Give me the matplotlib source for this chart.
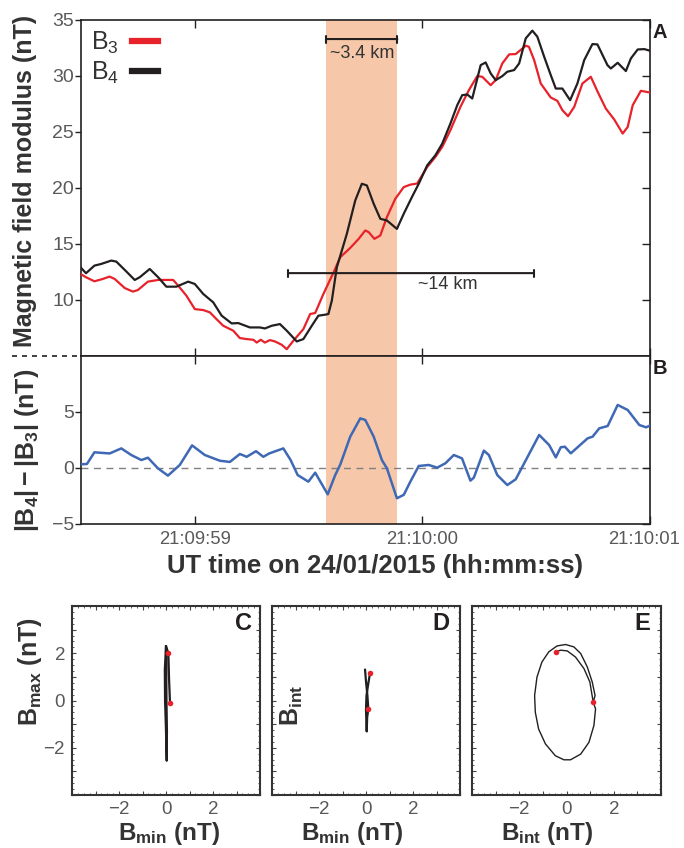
import numpy as np
import matplotlib
matplotlib.use("Agg")
import matplotlib.pyplot as plt
from matplotlib.lines import Line2D
from matplotlib.ticker import MultipleLocator, FuncFormatter
from matplotlib.transforms import ScaledTranslation

plt.rcParams['font.family'] = ['Liberation Sans', 'DejaVu Sans']
plt.rcParams['mathtext.fontset'] = 'custom'
plt.rcParams['mathtext.rm'] = 'Liberation Sans'
plt.rcParams['mathtext.it'] = 'Liberation Sans:italic'
plt.rcParams['mathtext.bf'] = 'Liberation Sans:bold'

# time in seconds relative to 21:09:59
t_b3 = [-0.502, -0.478, -0.441, -0.404, -0.375, -0.352, -0.308, -0.272, -0.250, -0.206,
        -0.161, -0.095, -0.073, -0.037, 0.000, 0.037, 0.066, 0.095, 0.125, 0.169,
        0.198, 0.228, 0.257, 0.272, 0.290, 0.308, 0.330, 0.352, 0.382, 0.404,
        0.433, 0.477, 0.507, 0.529, 0.565, 0.610, 0.639, 0.683, 0.720, 0.749,
        0.764, 0.789, 0.815, 0.844, 0.881, 0.918, 0.947, 0.977, 1.021, 1.057,
        1.087, 1.123, 1.167, 1.204, 1.241, 1.263, 1.300, 1.322, 1.351, 1.381,
        1.410, 1.454, 1.468, 1.491, 1.520, 1.564, 1.593, 1.615, 1.640, 1.667,
        1.703, 1.740, 1.770, 1.806, 1.843, 1.880, 1.902, 1.924, 1.960, 2.005]
b3 = [12.33, 12.03, 11.67, 11.88, 12.09, 11.88, 11.07, 10.75, 10.89, 11.64,
      11.79, 11.79, 11.28, 10.39, 9.19, 9.10, 8.90, 8.30, 7.70, 7.26,
      6.60, 6.51, 6.45, 6.20, 6.45, 6.20, 6.42, 6.30, 6.00, 5.61,
      6.36, 7.40, 8.75, 8.84, 10.54, 12.48, 13.82, 14.65, 15.46, 16.21,
      16.06, 15.46, 15.76, 17.40, 19.04, 20.08, 20.30, 20.40, 21.87, 22.77,
      23.66, 25.16, 27.24, 28.73, 29.99, 29.93, 29.18, 29.63, 31.12, 31.93,
      31.96, 32.70, 32.61, 31.42, 29.33, 28.08, 27.78, 26.95, 26.41, 27.24,
      29.33, 29.93, 28.59, 27.09, 26.11, 24.86, 25.45, 27.39, 28.68, 28.50]

t_b4 = [-0.502, -0.478, -0.441, -0.411, -0.367, -0.345, -0.308, -0.264, -0.242, -0.198,
        -0.161, -0.125, -0.081, -0.029, 0.000, 0.037, 0.081, 0.118, 0.162, 0.191,
        0.242, 0.286, 0.308, 0.338, 0.374, 0.404, 0.448, 0.477, 0.514, 0.543,
        0.573, 0.587, 0.602, 0.624, 0.668, 0.705, 0.734, 0.756, 0.786, 0.815,
        0.844, 0.888, 0.918, 0.954, 0.984, 1.021, 1.057, 1.087, 1.123, 1.153,
        1.175, 1.197, 1.219, 1.256, 1.278, 1.300, 1.322, 1.351, 1.373, 1.403,
        1.425, 1.454, 1.483, 1.505, 1.535, 1.564, 1.586, 1.615, 1.649, 1.681,
        1.711, 1.747, 1.769, 1.813, 1.828, 1.858, 1.894, 1.916, 1.946, 1.975, 2.001]
b4 = [12.92, 12.39, 13.07, 13.22, 13.52, 13.43, 12.69, 11.79, 12.03, 12.77,
      12.03, 11.19, 11.19, 11.64, 11.43, 10.54, 9.79, 8.60, 7.91, 7.94,
      7.55, 7.55, 7.46, 7.70, 7.85, 7.26, 6.30, 6.51, 7.70, 8.60,
      8.69, 8.75, 9.94, 12.92, 15.91, 18.89, 20.38, 20.23, 18.59, 17.25,
      17.10, 16.35, 17.70, 19.19, 20.38, 22.02, 22.92, 23.96, 25.75, 27.39,
      28.29, 28.35, 27.99, 30.97, 31.21, 30.23, 29.63, 29.99, 30.38, 30.53,
      31.12, 33.36, 34.05, 33.51, 31.72, 30.08, 28.88, 28.88, 27.84, 29.33,
      31.42, 32.85, 32.82, 30.97, 30.67, 31.18, 30.44, 31.57, 32.37, 32.40, 32.25]

t_diff = [-0.499, -0.474, -0.441, -0.374, -0.323, -0.279, -0.235, -0.206, -0.162, -0.118,
          -0.066, -0.012, 0.044, 0.110, 0.154, 0.198, 0.228, 0.269, 0.301, 0.327,
          0.389, 0.421, 0.452, 0.499, 0.529, 0.584, 0.617, 0.639, 0.683, 0.727,
          0.749, 0.786, 0.822, 0.844, 0.888, 0.918, 0.947, 0.984, 1.028, 1.065,
          1.101, 1.138, 1.174, 1.211, 1.226, 1.270, 1.292, 1.329, 1.373, 1.410,
          1.513, 1.557, 1.586, 1.608, 1.626, 1.652, 1.726, 1.748, 1.777, 1.814,
          1.858, 1.902, 1.953, 1.983, 2.005]
diff = [0.33, 0.36, 1.40, 1.30, 1.75, 1.16, 0.71, 0.92, -0.03, -0.68,
        0.27, 2.02, 1.16, 0.65, 0.54, 1.25, 1.00, 1.50, 1.00, 1.30,
        1.75, 0.71, -0.63, -1.22, -0.42, -2.35, -0.63, 0.30, 2.80, 4.43,
        4.29, 2.80, 0.71, -0.03, -2.70, -2.40, -1.22, 0.18, 0.27, 0.03,
        0.42, 1.16, 0.86, -1.13, -0.86, 1.55, 1.16, -0.63, -1.52, -1.01,
        2.95, 2.05, 0.95, 1.85, 1.90, 1.31, 2.65, 2.80, 3.54, 3.75,
        5.63, 5.18, 3.84, 3.63, 3.84]

time_ticks = [0, 1, 2]
time_labels = ['21:09:59', '21:10:00', '21:10:01']
shade_span = (0.577, 0.890)
bar_small = (0.577, 0.890, 33.3)
bar_large = (0.41, 1.49, 12.4)

# hodograms (MVA frame)
c_bmin = [0.17, 0.13, 0.10, 0.00, -0.05, -0.04, 0.00, 0.03, 0.04, 0.02, 0.01, 0.00]
c_bmax = [-0.10, 0.90, 2.00, 2.30, 1.30, 0.00, -1.30, -2.55, -1.30, 0.00, 1.30, 2.30]
c_dots_x = [0.10, 0.17]
c_dots_y = [2.00, -0.10]

d_bmin = [0.17, 0.08, 0.02, 0.00, 0.03, 0.05, 0.10, 0.06, 0.00, -0.04]
d_bint = [1.16, 0.60, 0.20, -0.40, -1.31, -0.70, -0.38, 0.20, 0.80, 1.30]
d_dots_x = [0.17, 0.10]
d_dots_y = [1.16, -0.38]

e_bint = [1.13, 1.23, 1.16, 0.95, 0.60, 0.17, -0.11, -0.47, -0.89, -1.18, -1.32, -1.35,
          -1.25, -1.04, -0.75, -0.40, -0.04, 0.31, 0.60, 0.88, 1.09, 1.21, 1.13,
          0.99, 0.74, 0.38, 0.03, -0.26, -0.44]
e_bmax = [-0.07, -0.35, -1.06, -1.77, -2.27, -2.51, -2.51, -2.34, -1.84, -1.21, -0.50, 0.21,
          0.99, 1.63, 2.06, 2.31, 2.37, 2.27, 1.99, 1.42, 0.78, 0.21, -0.07,
          0.78, 1.35, 1.84, 2.10, 2.13, 2.06]
e_dots_x = [-0.44, 1.13]
e_dots_y = [2.06, -0.07]

RED = '#e8222b'
BLACK = '#231f20'
BLUE = '#3f68b5'
SHADE = '#f6c8a9'
GREY = '#58595b'

W, H = 684, 848


def fx(x):
    return x / W


def fy(y):
    return 1 - y / H


def ax_rect(left, top, right, bottom):
    return [fx(left), fy(bottom), (right - left) / W, (bottom - top) / H]


fig = plt.figure(figsize=(6.84, 8.48), dpi=100)

axA = fig.add_axes(ax_rect(81, 20, 650, 356))
axB = fig.add_axes(ax_rect(81, 356, 650, 524))

for ax in (axA, axB):
    ax.axvspan(*shade_span, color=SHADE, lw=0, zorder=0)
    ax.set_xlim(-0.5, 2.0)
    ax.set_xticks(time_ticks)
    ax.tick_params(axis='x', direction='in', top=True, bottom=True, length=6, width=1,
                   colors=BLACK, labelcolor=GREY, labelsize=13.3, pad=5)
    ax.tick_params(axis='y', left=True, right=False, direction='out',
                   length=4, width=1, colors=BLACK, labelcolor=GREY, labelsize=14, pad=1)
    for s in ax.spines.values():
        s.set_color(BLACK)
        s.set_linewidth(1.2)

axA.plot(t_b3, b3, color=RED, lw=1.6, zorder=3)
axA.plot(t_b4, b4, color=BLACK, lw=1.6, zorder=3)
axA.set_ylim(5, 35)
axA.set_yticks([10, 15, 20, 25, 30, 35])
axA.tick_params(axis='x', labelbottom=False)

arrow_kw = dict(arrowstyle='|-|,widthA=0.25,widthB=0.25', lw=1.5, color=BLACK,
                shrinkA=0, shrinkB=0)
axA.annotate('', xy=(bar_small[1], bar_small[2]), xytext=(bar_small[0], bar_small[2]),
             arrowprops=arrow_kw)
axA.text((bar_small[0] + bar_small[1]) / 2, 32.0, '~3.4 km', ha='center', va='center',
         fontsize=13, color='#333333')
axA.annotate('', xy=(bar_large[1], bar_large[2]), xytext=(bar_large[0], bar_large[2]),
             arrowprops=arrow_kw)
axA.text(1.11, 11.35, '~14 km', ha='center', va='center', fontsize=13, color='#333333')

handles = [Line2D([], [], color=RED, lw=4.5), Line2D([], [], color=BLACK, lw=4.5)]
axA.legend(handles, [r'B$_\mathrm{3}$', r'B$_\mathrm{4}$'], loc='upper left', frameon=False,
           markerfirst=False, handlelength=1.05, handletextpad=0.5, fontsize=18,
           labelspacing=0.15, borderaxespad=0.2, borderpad=0.2, labelcolor='#333333')

axB.plot(t_diff, diff, color=BLUE, lw=1.8, zorder=3)
axB.axhline(0, color='#808080', lw=1, ls=(0, (5, 4)), zorder=2)
axB.set_ylim(-5, 10)
axB.set_yticks([-5, 0, 5])
axB.set_xticklabels(time_labels)
# last time label sits right at the figure edge: nudge it in a little
last = axB.get_xticklabels()[-1]
last.set_transform(last.get_transform() + ScaledTranslation(-4 / 72, 0, fig.dpi_scale_trans))

# right-side inward ticks
for ax in (axA, axB):
    tw = ax.twinx()
    tw.set_ylim(ax.get_ylim())
    tw.set_yticks(ax.get_yticks())
    tw.tick_params(axis='y', direction='in', length=6, width=1, colors=BLACK, labelright=False)
    for s in tw.spines.values():
        s.set_visible(False)

# bottom hodogram panels
rects = [(72, 606, 260, 795), (272, 606, 460, 795), (472, 606, 661, 795)]
paths = [(c_bmin, c_bmax, c_dots_x, c_dots_y, 1.6),
         (d_bmin, d_bint, d_dots_x, d_dots_y, 1.6),
         (e_bint, e_bmax, e_dots_x, e_dots_y, 1.0)]
for i, (r, p) in enumerate(zip(rects, paths)):
    ax = fig.add_axes(ax_rect(*r))
    ax.plot(p[0], p[1], color=BLACK, lw=p[4], zorder=3)
    ax.plot(p[2], p[3], 'o', color=RED, ms=4, mec='none', zorder=4)
    ax.set_xlim(-4, 4)
    ax.set_ylim(-4, 4)
    for axis in (ax.xaxis, ax.yaxis):
        axis.set_major_locator(MultipleLocator(1))
        axis.set_minor_locator(MultipleLocator(0.25))
        axis.set_major_formatter(FuncFormatter(
            lambda v, pos: ('\u2212%d' % abs(v) if v < 0 else '%d' % v) if abs(v) in (0, 2) else ''))
    ax.tick_params(which='both', direction='in', top=True, right=True, colors='#444444',
                   labelcolor=GREY, labelsize=13.5)
    ax.tick_params(which='major', length=3, width=0.8, pad=5)
    ax.tick_params(axis='x', which='major', pad=4)
    ax.tick_params(which='minor', length=1.5, width=0.6)
    if i > 0:
        ax.tick_params(axis='y', labelleft=False)
    for s in ax.spines.values():
        s.set_color('#333333')
        s.set_linewidth(1.5)

lab = dict(fontsize=18, fontweight='bold', color='#333333')
fig.text(fx(25), fy(181), 'Magnetic field modulus (nT)', rotation=90, ha='center', va='center', **lab)
fig.text(fx(27), fy(450), r'$\mathbf{|B_4| - |B_3|}$ (nT)', rotation=90, ha='center', va='center', **lab)
fig.text(fx(375), fy(566), 'UT time on 24/01/2015 (hh:mm:ss)', ha='center', va='center',
         fontsize=18.5, fontweight='bold', color='#333333')
fig.text(fx(30), fy(672), r'$\mathbf{B_{max}}$ (nT)', rotation=90, ha='center', va='center', **lab)
fig.text(fx(292), fy(705), r'$\mathbf{B_{int}}$', rotation=90, ha='center', va='center', **lab)
bot = dict(fontsize=17.5, fontweight='bold', color='#333333', ha='center', va='baseline')
fig.text(fx(169), fy(840), r'$\mathbf{B_{min}}$ (nT)', **bot)
fig.text(fx(352), fy(840), r'$\mathbf{B_{min}}$ (nT)', **bot)
fig.text(fx(547), fy(840), r'$\mathbf{B_{int}}$ (nT)', **bot)

letter = dict(fontweight='bold', color=BLACK, ha='center', va='center')
fig.text(fx(660), fy(32), 'A', fontsize=14.5, **letter)
fig.text(fx(660), fy(368), 'B', fontsize=14.5, **letter)
fig.text(fx(243), fy(624), 'C', fontsize=17, **letter)
fig.text(fx(441), fy(624), 'D', fontsize=17, **letter)
fig.text(fx(642), fy(624), 'E', fontsize=17, **letter)

# dashed separator in the label margin
fig.add_artist(Line2D([fx(12), fx(81)], [fy(356), fy(356)], color=BLACK, lw=1.2,
                      ls=(0, (3, 3))))

fig.savefig('out.png', dpi=100)
